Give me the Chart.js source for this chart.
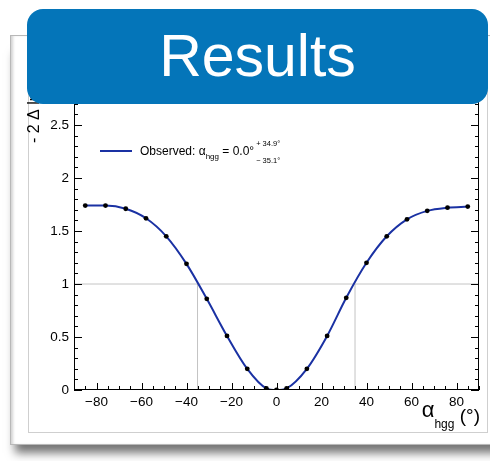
<!DOCTYPE html>
<html>
<head>
<meta charset="utf-8">
<script src="https://cdn.jsdelivr.net/npm/chart.js@4.4.0/dist/chart.umd.min.js"></script>
<style>
    html, body { margin: 0; padding: 0; background: #fff; width: 490px; height: 461px; overflow: hidden; }
    .card {
        position: absolute; left: 10px; top: 35px; width: 520px; height: 408px;
        background: #fff; border: 1px solid #b8b8b8;
        box-shadow: inset 3px 0 3px -1px rgba(0,0,0,0.18), 0 13px 9px -5px rgba(0,0,0,0.55);
    }
    .frame {
        position: absolute; left: 28px; top: 50px; width: 458px; height: 381px;
        background: #fff; border: 1px solid #cfcfcf;
    }
    .chart-box { position: absolute; left: 0; top: 0; width: 490px; height: 461px; }
    .banner {
        position: absolute; left: 27px; top: 9px; width: 461px; height: 95px;
        background: #0475b9; border-radius: 16px;
        color: #fff; font-family: 'Liberation Sans', Arial, sans-serif; font-size: 59px;
        text-align: center; line-height: 95px;
    }
</style>
</head>
<body>
<div class="card"></div>
<div class="frame"></div>
<div class="chart-box"><canvas id="scanChart"></canvas></div>
<div class="banner">Results</div>

<script>
// scan points
const angles = [-85, -76, -67, -58, -49, -40, -31, -22, -13, -4.5, 0, 4.5, 13.5, 22.5, 31, 40, 49, 58, 67, 76, 85];
const nllValues = [1.74, 1.74, 1.71, 1.62, 1.45, 1.19, 0.86, 0.51, 0.20, 0.016, 0, 0.016, 0.20, 0.51, 0.87, 1.20, 1.45, 1.61, 1.69, 1.72, 1.73];

// axis ticks
const xTickValues = [-80, -60, -40, -20, 0, 20, 40, 60, 80];
const yTickValues = [0, 0.5, 1, 1.5, 2, 2.5];

// 1 sigma crossings
const crossLevel = 1;
const errLow = -35.1;
const errHigh = 34.9;

const FONT = "'Liberation Sans', Arial, sans-serif";
const minus = s => String(s).replace('-', '\u2212');

// ROOT style frame with inward ticks, axis titles and legend
const rootFrame = {
    id: 'rootFrame',
    afterDraw(chart) {
        const { ctx, chartArea: a, scales: { x, y } } = chart;
        ctx.save();
        ctx.strokeStyle = '#000';
        ctx.lineWidth = 1;
        ctx.strokeRect(a.left + 0.5, a.top + 0.5, a.right - a.left - 1, a.bottom - a.top - 1);

        ctx.beginPath();
        for (let v = -90; v <= 90; v += 5) {
            const px = Math.round(x.getPixelForValue(v)) + 0.5;
            const len = v % 20 === 0 ? 7 : 4;
            ctx.moveTo(px, a.bottom); ctx.lineTo(px, a.bottom - len);
            ctx.moveTo(px, a.top); ctx.lineTo(px, a.top + len);
        }
        for (let i = 0; i <= 30; i++) {
            const v = i / 10;
            const py = Math.round(y.getPixelForValue(v)) + 0.5;
            const len = i % 5 === 0 ? 8 : 4;
            ctx.moveTo(a.left, py); ctx.lineTo(a.left + len, py);
            ctx.moveTo(a.right, py); ctx.lineTo(a.right - len, py);
        }
        ctx.stroke();

        // x title
        ctx.fillStyle = '#000';
        ctx.textBaseline = 'alphabetic';
        ctx.textAlign = 'left';
        const parts = [['\u03b1', '22px', 417], ['hgg', '12px', 428], [' (\u00b0)', '19px', 422]];
        let total = 0;
        parts.forEach(p => { ctx.font = p[1] + ' ' + FONT; total += ctx.measureText(p[0]).width; });
        let cx = 480 - total;
        parts.forEach(p => {
            ctx.font = p[1] + ' ' + FONT;
            ctx.fillText(p[0], cx, p[2]);
            cx += ctx.measureText(p[0]).width;
        });

        // y title
        ctx.save();
        ctx.translate(39, 143);
        ctx.rotate(-Math.PI / 2);
        ctx.font = '16px ' + FONT;
        ctx.fillText('- 2 \u0394 ln L', 0, 0);
        ctx.restore();

        // legend
        ctx.strokeStyle = '#1a31a3';
        ctx.lineWidth = 2;
        ctx.beginPath();
        ctx.moveTo(100, 151); ctx.lineTo(132, 151);
        ctx.stroke();
        let lx = 140;
        const put = (txt, size, by) => {
            ctx.font = size + ' ' + FONT;
            ctx.fillText(txt, lx, by);
            lx += ctx.measureText(txt).width;
        };
        put('Observed: \u03b1', '12px', 155);
        put('hgg', '8px', 159);
        put(' = 0.0\u00b0', '12px', 155);
        lx += 2;
        ctx.font = '7.5px ' + FONT;
        ctx.fillText('+ 34.9\u00b0', lx, 146);
        ctx.fillText('\u2212 35.1\u00b0', lx, 163);
        ctx.restore();
    }
};

const canvas = document.getElementById('scanChart');
new Chart(canvas, {
    type: 'line',
    data: {
        datasets: [
            {
                label: 'Observed',
                data: angles.map((a, i) => ({ x: a, y: nllValues[i] })),
                borderColor: '#1a31a3',
                borderWidth: 2,
                cubicInterpolationMode: 'monotone',
                pointRadius: 2.4,
                pointBackgroundColor: '#000',
                pointBorderColor: '#000',
                pointBorderWidth: 0,
                order: 0
            },
            {
                data: [{ x: -90, y: crossLevel }, { x: 90, y: crossLevel }],
                borderColor: '#c4c4c4', borderWidth: 1, pointRadius: 0, order: 1
            },
            {
                data: [{ x: errLow, y: 0 }, { x: errLow, y: crossLevel }],
                borderColor: '#c4c4c4', borderWidth: 1, pointRadius: 0, order: 1
            },
            {
                data: [{ x: errHigh, y: 0 }, { x: errHigh, y: crossLevel }],
                borderColor: '#c4c4c4', borderWidth: 1, pointRadius: 0, order: 1
            }
        ]
    },
    options: {
        responsive: true,
        maintainAspectRatio: false,
        animation: false,
        layout: { padding: { left: 0, top: 72, right: 11, bottom: 0 } },
        plugins: { legend: { display: false }, tooltip: { enabled: false } },
        scales: {
            x: {
                type: 'linear',
                min: -90,
                max: 90,
                grid: { display: false, drawTicks: false },
                border: { display: false },
                afterBuildTicks: s => { s.ticks = xTickValues.map(v => ({ value: v })); },
                afterFit: s => { s.height = 71; },
                ticks: {
                    color: '#000',
                    font: { family: FONT, size: 13.5 },
                    padding: 4,
                    maxRotation: 0,
                    autoSkip: false,
                    callback: v => minus(v)
                }
            },
            y: {
                type: 'linear',
                min: 0,
                max: 3,
                grid: { display: false, drawTicks: false },
                border: { display: false },
                afterBuildTicks: s => { s.ticks = yTickValues.map(v => ({ value: v })); },
                afterFit: s => { s.width = 74; },
                ticks: {
                    color: '#000',
                    font: { family: FONT, size: 13.5 },
                    padding: 5,
                    autoSkip: false,
                    callback: v => String(v)
                }
            }
        }
    },
    plugins: [rootFrame]
});
</script>
</body>
</html>
